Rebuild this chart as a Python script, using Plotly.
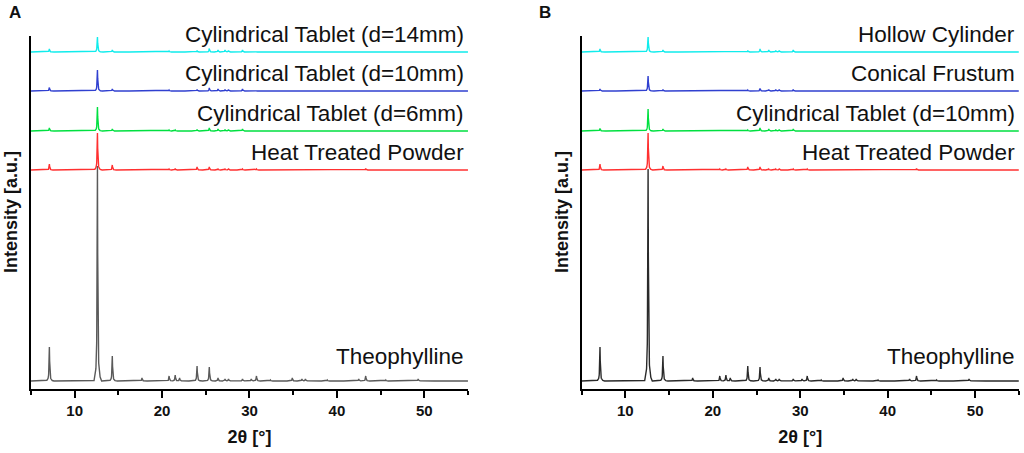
import numpy as np
import plotly.graph_objects as go

# ---- data ----
PEAK_POS = [7.1, 12.6, 14.3, 17.7, 20.8, 21.5, 22.0, 24.0, 25.4, 26.4, 27.2, 27.6,
            29.2, 30.2, 30.8, 32.4, 34.9, 36.0, 36.4, 38.9, 42.5, 43.3, 45.6, 49.3]

# Panel A peak heights (a.u.)
A_theo  = [34, 215, 25, 3, 5, 6, 3, 15, 14, 3, 2, 2, 2, 2, 5, 1, 3, 2, 2, 1, 2, 5, 1, 2]
A_heat  = [6, 37, 5, 0.5, 1, 1.5, 0.5, 3, 3, 1, 1, 1, 1, 0.5, 1, 0, 0.5, 0.5, 0.5, 0, 0.5, 1.5, 0, 0.5]
A_d6    = [3, 24, 2, 0, 1, 1, 0, 1.5, 3, 2, 1.5, 1.5, 2, 0, 0.5, 0, 0, 0, 0, 0, 0, 0.5, 0, 0]
A_d10   = [3.5, 21, 2, 0, 1, 0.5, 0, 1.5, 3, 2, 1.5, 1.5, 2, 0, 0.5, 0, 0, 0, 0, 0, 0, 0.5, 0, 0]
A_d14   = [3, 15, 2, 0, 1, 0.5, 0, 1.5, 3.5, 2, 2, 1.5, 2, 0, 0.5, 0, 0, 0, 0, 0, 0, 0.5, 0, 0]

# Panel B peak heights (a.u.)
B_theo  = [34, 212, 25, 3, 5, 6, 3, 15, 14, 3, 2, 2, 2, 2, 5, 1, 3, 2, 2, 1, 2, 5, 1, 2]
B_heat  = [6, 37, 4, 0.5, 1, 1, 0.5, 3, 3, 1, 1, 1, 1, 0.5, 1, 0, 0.5, 0.5, 0.5, 0, 0.5, 1.5, 0, 0.5]
B_d10   = [2.5, 22, 2, 0, 0.5, 0.5, 0, 1, 3, 2, 1.5, 1.5, 2, 0, 0.5, 0, 0, 0, 0, 0, 0, 0.5, 0, 0]
B_cone  = [2, 15, 1.5, 0, 0.5, 0.5, 0, 1, 2.5, 1.5, 1.5, 1.5, 1.5, 0, 0.5, 0, 0, 0, 0, 0, 0, 0.5, 0, 0]
B_hollow = [3, 15, 2, 0, 0.5, 0.5, 0, 1.5, 3, 2, 1.5, 1.5, 2, 0, 0.5, 0, 0, 0, 0, 0, 0, 0.5, 0, 0]

A_labels = ["Theophylline", "Heat Treated Powder", "Cylindrical Tablet (d=6mm)",
            "Cylindrical Tablet (d=10mm)", "Cylindrical Tablet (d=14mm)"]
B_labels = ["Theophylline", "Heat Treated Powder", "Cylindrical Tablet (d=10mm)",
            "Conical Frustum", "Hollow Cylinder"]

X_TICKS = [10, 20, 30, 40, 50]

# ---- styling / layout constants ----
OFFSETS = [0, 211, 250, 290, 329]
COLORS_A = ["#5a5a5a", "#ff3030", "#00e040", "#3040d0", "#10ecec"]
COLORS_B = ["#2a2a2a", "#ff3030", "#00e040", "#3040d0", "#10ecec"]
X_MIN, X_MAX = 5, 55
Y_MIN, Y_MAX = -8, 345
SHAPE_DX = [-0.4, -0.2, -0.1, -0.04, 0, 0.04, 0.1, 0.2, 0.4]
SHAPE_F = [0, 0.04, 0.12, 0.45, 1, 0.45, 0.12, 0.04, 0]
GRID = np.arange(X_MIN, X_MAX + 0.005, 0.01)
FONT = "Liberation Sans, Arial, sans-serif"


def profile(heights, offset):
    y = np.full_like(GRID, float(offset))
    for p, h in zip(PEAK_POS, heights):
        if h > 0:
            y += h * np.interp(GRID, [p + d for d in SHAPE_DX], SHAPE_F, left=0, right=0)
    return GRID, y


fig = go.Figure()
panels = [
    ("x", "y", [A_theo, A_heat, A_d6, A_d10, A_d14], A_labels, COLORS_A),
    ("x2", "y2", [B_theo, B_heat, B_d10, B_cone, B_hollow], B_labels, COLORS_B),
]
label_font = dict(family=FONT, size=22.5, color="#111")
for xa, ya, series, labels, colors in panels:
    for i, (h, lab, col) in enumerate(zip(series, labels, colors)):
        xs, ys = profile(h, OFFSETS[i])
        fig.add_trace(go.Scatter(x=xs, y=ys, mode="lines", xaxis=xa, yaxis=ya,
                                 line=dict(color=col, width=1.4), showlegend=False,
                                 hoverinfo="skip"))
        yv = OFFSETS[i] + (24 if i == 0 else 18)
        fig.add_annotation(x=54.8, y=(yv - Y_MIN) / (Y_MAX - Y_MIN), xref=xa,
                           yref=ya + " domain",
                           text=lab, showarrow=False, xanchor="right", yanchor="middle",
                           font=label_font)

tick_font = dict(family=FONT, size=15, color="#111")
title_font = dict(family=FONT, size=18, color="#111")

xaxis_common = dict(range=[X_MIN, X_MAX], tickvals=X_TICKS,
                    ticktext=[f"<b>{t}</b>" for t in X_TICKS],
                    ticks="outside", ticklen=7, tickwidth=1.5, tickcolor="black",
                    minor=dict(tickvals=[5, 15, 25, 35, 45, 55], ticks="outside",
                               ticklen=4, tickwidth=1.5, tickcolor="black"),
                    showline=True, linecolor="black", linewidth=2, showgrid=False,
                    zeroline=False, tickfont=tick_font,
                    title=dict(text="<b>2θ [°]</b>", font=title_font, standoff=12))
yaxis_common = dict(range=[Y_MIN, Y_MAX], showticklabels=False, ticks="", showline=True,
                    linecolor="black", linewidth=2, showgrid=False, zeroline=False)

fig.update_layout(
    width=1024, height=453,
    margin=dict(l=0, r=0, t=0, b=0),
    paper_bgcolor="white", plot_bgcolor="white",
    xaxis=dict(domain=[0.0303, 0.457], anchor="y", **xaxis_common),
    yaxis=dict(domain=[0.1413, 0.9205], anchor="x", **yaxis_common),
    xaxis2=dict(domain=[0.568, 0.995], anchor="y2", **xaxis_common),
    yaxis2=dict(domain=[0.1413, 0.9205], anchor="x2", **yaxis_common),
)

# y-axis titles (placed as rotated paper annotations)
for px in [11, 562]:
    fig.add_annotation(x=px / 1024, y=1 - 212 / 453, xref="paper", yref="paper",
                       text="<b>Intensity [a.u.]</b>", textangle=-90, showarrow=False,
                       xanchor="center", yanchor="middle", font=title_font)

for letter, px in [("A", 15), ("B", 545)]:
    fig.add_annotation(x=px / 1024, y=1 - 12 / 453, xref="paper", yref="paper",
                       text=f"<b>{letter}</b>", showarrow=False, xanchor="center",
                       yanchor="middle", font=dict(family=FONT, size=17, color="#111"))

fig.write_html("out.html", config={"displayModeBar": False},
               post_script="document.body.style.margin='0';document.body.style.padding='0';")
